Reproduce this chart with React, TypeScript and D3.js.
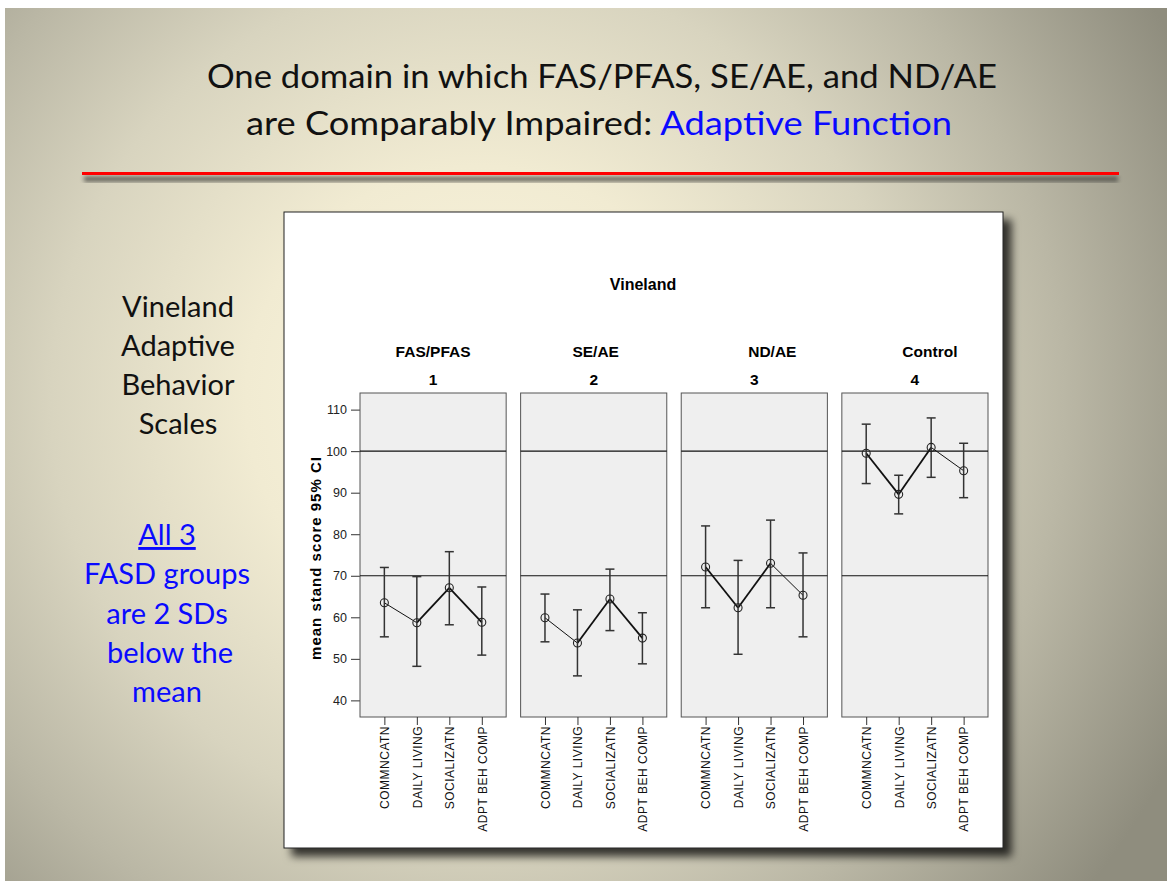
import React, { useEffect, useRef } from "react";
import * as d3 from "d3";

// Vineland adaptive behaviour, mean standard score with 95% CI, per group
const groups = ["FAS/PFAS", "SE/AE", "ND/AE", "Control"];
const groupCodes = ["1", "2", "3", "4"];
const measures = ["COMMNCATN", "DAILY LIVING", "SOCIALIZATN", "ADPT BEH COMP"];

const meanFas = [63.5, 58.7, 67.1, 58.8];
const lowFas = [55.3, 48.2, 58.2, 50.9];
const highFas = [72.0, 69.8, 75.8, 67.3];

const meanSe = [59.9, 53.8, 64.4, 55.0];
const lowSe = [54.1, 45.9, 56.8, 48.8];
const highSe = [65.6, 61.8, 71.6, 61.1];

const meanNd = [72.1, 62.3, 73.0, 65.3];
const lowNd = [62.3, 51.1, 62.3, 55.3];
const highNd = [82.0, 73.7, 83.4, 75.5];

const meanCtl = [99.5, 89.6, 100.9, 95.3];
const lowCtl = [92.2, 84.9, 93.7, 88.8];
const highCtl = [106.5, 94.2, 108.0, 101.9];

const yTicks = [40, 50, 60, 70, 80, 90, 100, 110];
const refLines = [70, 100];

const sideNotes = ["Vineland", "Adaptive", "Behavior", "Scales"];
const blueNotes = ["All 3", "FASD groups", "are 2 SDs", "below the", "mean"];

// rendering quirks of the original export (thick / thin joins)
const segWidths = [
  [1, 1.8, 1.8],
  [1, 1.8, 1.8],
  [1.8, 1.8, 1],
  [1.8, 1.8, 1],
];
const headerShift = [0, 2, 18, 15];

const W = 1167;
const H = 882;
const SANS = "'Liberation Sans', Arial, sans-serif";
const SLIDE_FONT = "Lato, 'Open Sans', sans-serif";

function App() {
  const ref = useRef<SVGSVGElement>(null);

  useEffect(() => {
    const svg = d3.select(ref.current);
    svg.selectAll("*").remove();

    const defs = svg.append("defs");
    const grad = defs
      .append("radialGradient")
      .attr("id", "bg")
      .attr("gradientUnits", "userSpaceOnUse")
      .attr("cx", 480)
      .attr("cy", 400)
      .attr("r", 780);
    [
      [0, "#fcf7e0"],
      [0.3, "#f1ebd2"],
      [0.55, "#d8d4bf"],
      [0.75, "#bab7a5"],
      [1, "#8f8d7e"],
    ].forEach(([o, c]) => grad.append("stop").attr("offset", o as number).attr("stop-color", c as string));

    const shadow = defs.append("filter").attr("id", "shadow").attr("x", "-5%").attr("y", "-5%").attr("width", "115%").attr("height", "115%");
    shadow
      .append("feDropShadow")
      .attr("dx", 8)
      .attr("dy", 8)
      .attr("stdDeviation", 4.5)
      .attr("flood-color", "#000")
      .attr("flood-opacity", 0.75);

    const blur = defs.append("filter").attr("id", "blur");
    blur.append("feGaussianBlur").attr("stdDeviation", 2);

    // slide background
    svg.append("rect").attr("width", W).attr("height", H).attr("fill", "#fff");
    svg.append("rect").attr("x", 5).attr("y", 8).attr("width", W - 5).attr("height", H - 9).attr("fill", "url(#bg)");

    // slide title
    const title = svg.append("g").attr("font-family", SLIDE_FONT).attr("font-size", 33).attr("fill", "#111");
    title
      .append("text")
      .attr("x", 207)
      .attr("y", 88)
      .attr("textLength", 790)
      .attr("lengthAdjust", "spacingAndGlyphs")
      .text("One domain in which FAS/PFAS, SE/AE, and ND/AE");
    const t2 = title
      .append("text")
      .attr("x", 246)
      .attr("y", 135)
      .attr("textLength", 706)
      .attr("lengthAdjust", "spacingAndGlyphs");
    t2.append("tspan").text("are Comparably Impaired: ");
    t2.append("tspan").attr("fill", "#0a0aff").text("Adaptive Function");

    // red rule with its shadow
    svg.append("rect").attr("x", 84).attr("y", 176).attr("width", 1034).attr("height", 6).attr("fill", "#4a4a44").attr("opacity", 0.75).attr("filter", "url(#blur)");
    svg.append("rect").attr("x", 82).attr("y", 172).attr("width", 1037).attr("height", 3).attr("fill", "#ff0000");

    // side notes
    const side = svg.append("g").attr("font-family", SLIDE_FONT).attr("font-size", 29).attr("text-anchor", "middle");
    side
      .selectAll("text.black")
      .data(sideNotes)
      .join("text")
      .attr("class", "black")
      .attr("x", 178)
      .attr("y", (_, i) => 317 + i * 39)
      .attr("fill", "#111")
      .text((d) => d);
    side
      .selectAll("text.blue")
      .data(blueNotes)
      .join("text")
      .attr("class", "blue")
      .attr("x", (d) => (d === "below the" ? 170 : 167))
      .attr("y", (_, i) => 545 + i * 39.3)
      .attr("fill", "#0a0aff")
      .attr("text-decoration", (_, i) => (i === 0 ? "underline" : "none"))
      .text((d) => d);

    // chart frame
    svg
      .append("rect")
      .attr("x", 284)
      .attr("y", 212)
      .attr("width", 719)
      .attr("height", 636)
      .attr("fill", "#fff")
      .attr("stroke", "#222")
      .attr("stroke-width", 1)
      .attr("filter", "url(#shadow)");

    const chart = svg.append("g").attr("font-family", SANS);

    const y = d3.scaleLinear().domain([36, 114]).range([717, 393]);
    const panel = d3.scaleBand<string>().domain(groups).range([360, 988]).paddingInner(0.09);
    const px = d3.scalePoint<string>().domain(measures).range([0, panel.bandwidth()]).padding(0.75);

    chart
      .append("text")
      .attr("x", 643)
      .attr("y", 290)
      .attr("text-anchor", "middle")
      .attr("font-weight", "bold")
      .attr("font-size", 16)
      .text("Vineland");

    chart
      .append("text")
      .attr("transform", "translate(321,558) rotate(-90)")
      .attr("text-anchor", "middle")
      .attr("font-weight", "bold")
      .attr("font-size", 15)
      .attr("letter-spacing", 1)
      .text("mean stand score 95% CI");

    // y axis (left panel only)
    const yAxis = chart
      .append("g")
      .attr("transform", `translate(${panel(groups[0])},0)`)
      .call(d3.axisLeft(y).tickValues(yTicks).tickSize(9).tickPadding(4));
    yAxis.select(".domain").remove();
    yAxis.selectAll("text").attr("font-size", 12.5).attr("font-family", SANS).attr("fill", "#222");
    yAxis.selectAll("line").attr("stroke", "#333");

    const means = [meanFas, meanSe, meanNd, meanCtl];
    const lows = [lowFas, lowSe, lowNd, lowCtl];
    const highs = [highFas, highSe, highNd, highCtl];

    groups.forEach((grp, gi) => {
      const x0 = panel(grp)!;
      const g = chart.append("g").attr("transform", `translate(${x0},0)`);
      const bw = panel.bandwidth();

      chart
        .append("text")
        .attr("x", x0 + bw / 2 + headerShift[gi])
        .attr("y", 357)
        .attr("text-anchor", "middle")
        .attr("font-weight", "bold")
        .attr("font-size", 15.5)
        .text(grp);
      chart
        .append("text")
        .attr("x", x0 + bw / 2)
        .attr("y", 385)
        .attr("text-anchor", "middle")
        .attr("font-weight", "bold")
        .attr("font-size", 15.5)
        .text(groupCodes[gi]);

      g.append("rect")
        .attr("x", 0)
        .attr("y", y.range()[1])
        .attr("width", bw)
        .attr("height", y.range()[0] - y.range()[1])
        .attr("fill", "#efefef")
        .attr("stroke", "#555");

      g.selectAll("line.ref")
        .data(refLines)
        .join("line")
        .attr("class", "ref")
        .attr("x1", 0)
        .attr("x2", bw)
        .attr("y1", (d) => y(d))
        .attr("y2", (d) => y(d))
        .attr("stroke", "#111")
        .attr("stroke-width", 1.2);

      const xAxis = g
        .append("g")
        .attr("transform", `translate(0,${y.range()[0]})`)
        .call(d3.axisBottom(px).tickSize(8).tickSizeOuter(0));
      xAxis.select(".domain").remove();
      xAxis.selectAll("line").attr("stroke", "#333");
      xAxis
        .selectAll("text")
        .attr("transform", "rotate(-90)")
        .attr("x", -9)
        .attr("y", 0)
        .attr("dy", "0.36em")
        .attr("text-anchor", "end")
        .attr("font-size", 12)
        .attr("letter-spacing", 0.5)
        .attr("font-family", SANS)
        .attr("fill", "#111");

      const rows = measures.map((m, i) => ({ m, mean: means[gi][i], lo: lows[gi][i], hi: highs[gi][i] }));

      // connecting line segments
      g.selectAll("line.seg")
        .data(rows.slice(1))
        .join("line")
        .attr("class", "seg")
        .attr("x1", (_, i) => px(rows[i].m)!)
        .attr("y1", (_, i) => y(rows[i].mean))
        .attr("x2", (d) => px(d.m)!)
        .attr("y2", (d) => y(d.mean))
        .attr("stroke", "#111")
        .attr("stroke-width", (_, i) => segWidths[gi][i]);

      // error bars
      const bars = g.selectAll("g.bar").data(rows).join("g").attr("class", "bar").attr("stroke", "#333").attr("stroke-width", 1.5);
      bars
        .append("line")
        .attr("x1", (d) => px(d.m)!)
        .attr("x2", (d) => px(d.m)!)
        .attr("y1", (d) => y(d.lo))
        .attr("y2", (d) => y(d.hi));
      bars
        .append("line")
        .attr("x1", (d) => px(d.m)! - 4.5)
        .attr("x2", (d) => px(d.m)! + 4.5)
        .attr("y1", (d) => y(d.hi))
        .attr("y2", (d) => y(d.hi));
      bars
        .append("line")
        .attr("x1", (d) => px(d.m)! - 4.5)
        .attr("x2", (d) => px(d.m)! + 4.5)
        .attr("y1", (d) => y(d.lo))
        .attr("y2", (d) => y(d.lo));

      g.selectAll("circle")
        .data(rows)
        .join("circle")
        .attr("cx", (d) => px(d.m)!)
        .attr("cy", (d) => y(d.mean))
        .attr("r", 4)
        .attr("fill", "none")
        .attr("stroke", "#222")
        .attr("stroke-width", 1.1);
    });
  }, []);

  return (
    <svg
      ref={ref}
      width={W}
      height={H}
      style={{ position: "absolute", left: 0, top: 0, display: "block" }}
    />
  );
}

export default App;
